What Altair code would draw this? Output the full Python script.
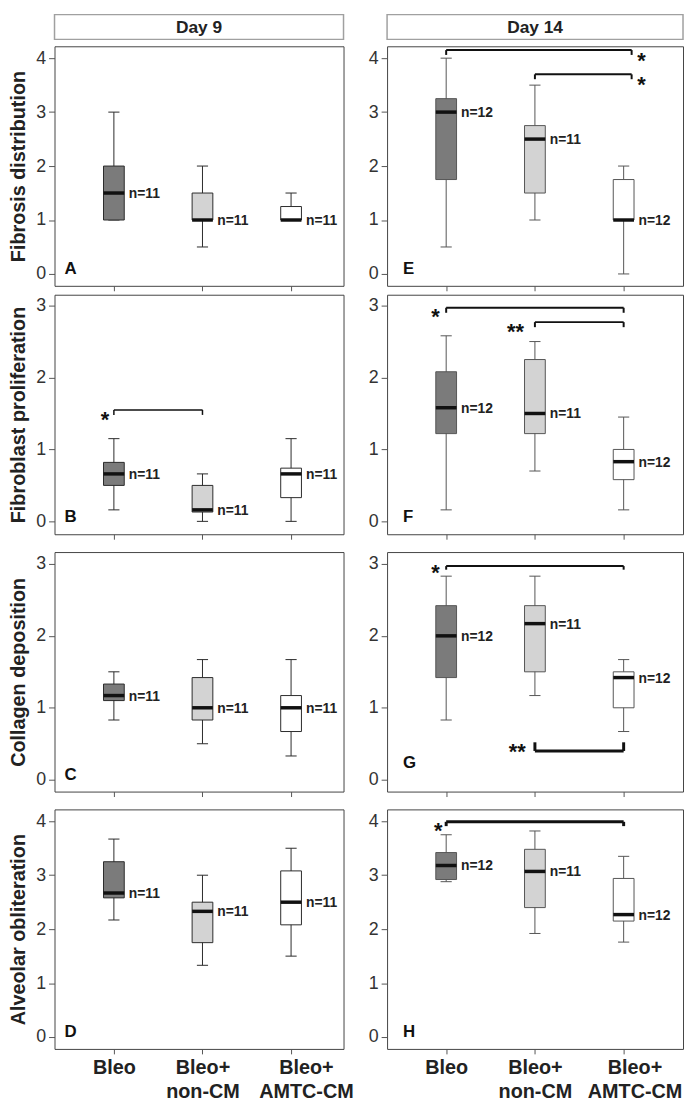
import json
import altair as alt
import pandas as pd

# ---------------- data ----------------
groups = ["Bleo", "Bleo+ non-CM", "Bleo+ AMTC-CM"]
group_pos = [1, 2, 3]

days = ["Day 9", "Day 14"]
metrics = ["Fibrosis distribution", "Fibroblast proliferation",
           "Collagen deposition", "Alveolar obliteration"]
letters_day9 = ["A", "B", "C", "D"]
letters_day14 = ["E", "F", "G", "H"]
n_day9 = [11, 11, 11]
n_day14 = [12, 11, 12]

# five-number summaries per group (Bleo, Bleo+non-CM, Bleo+AMTC-CM)
A_min = [1.00, 0.50, 1.00]
A_q1 = [1.00, 1.00, 1.00]
A_med = [1.50, 1.00, 1.00]
A_q3 = [2.00, 1.50, 1.25]
A_max = [3.00, 2.00, 1.50]

B_min = [0.16, 0.00, 0.00]
B_q1 = [0.50, 0.13, 0.33]
B_med = [0.66, 0.16, 0.66]
B_q3 = [0.82, 0.50, 0.74]
B_max = [1.15, 0.66, 1.15]

C_min = [0.83, 0.50, 0.33]
C_q1 = [1.10, 0.83, 0.67]
C_med = [1.17, 1.00, 1.00]
C_q3 = [1.33, 1.42, 1.17]
C_max = [1.50, 1.67, 1.67]

D_min = [2.17, 1.33, 1.50]
D_q1 = [2.58, 1.75, 2.08]
D_med = [2.67, 2.33, 2.50]
D_q3 = [3.25, 2.50, 3.08]
D_max = [3.67, 3.00, 3.50]

E_min = [0.50, 1.00, 0.00]
E_q1 = [1.75, 1.50, 1.00]
E_med = [3.00, 2.50, 1.00]
E_q3 = [3.25, 2.75, 1.75]
E_max = [4.00, 3.50, 2.00]

F_min = [0.16, 0.70, 0.16]
F_q1 = [1.22, 1.22, 0.58]
F_med = [1.58, 1.50, 0.83]
F_q3 = [2.08, 2.25, 1.00]
F_max = [2.58, 2.50, 1.45]

G_min = [0.83, 1.17, 0.67]
G_q1 = [1.42, 1.50, 1.00]
G_med = [2.00, 2.17, 1.42]
G_q3 = [2.42, 2.42, 1.50]
G_max = [2.83, 2.83, 1.67]

H_min = [2.88, 1.92, 1.76]
H_q1 = [2.92, 2.40, 2.15]
H_med = [3.18, 3.07, 2.27]
H_q3 = [3.42, 3.48, 2.94]
H_max = [3.75, 3.82, 3.35]

# significance brackets (group positions and levels in data units)
brk_panel = ["B", "E", "E", "F", "F", "G", "G", "H"]
brk_from = [1, 1, 2, 1, 2, 1, 2, 1]
brk_to = [2, 3.09, 3.09, 3, 3, 3, 3, 3]
brk_level = [1.55, 4.15, 3.70, 2.97, 2.77, 2.97, 0.40, 3.99]
brk_tip = [1.48, 4.06, 3.61, 2.90, 2.70, 2.92, 0.52, 3.91]
brk_stars = ["*", "*", "*", "*", "**", "*", "**", "*"]
brk_star_x = [0.90, 3.20, 3.20, 0.88, 1.78, 0.88, 1.80, 0.91]
brk_star_y = [1.49, 4.05, 3.61, 2.92, 2.72, 2.95, 0.46, 3.93]

panel_stats = {
    "A": (A_min, A_q1, A_med, A_q3, A_max),
    "B": (B_min, B_q1, B_med, B_q3, B_max),
    "C": (C_min, C_q1, C_med, C_q3, C_max),
    "D": (D_min, D_q1, D_med, D_q3, D_max),
    "E": (E_min, E_q1, E_med, E_q3, E_max),
    "F": (F_min, F_q1, F_med, F_q3, F_max),
    "G": (G_min, G_q1, G_med, G_q3, G_max),
    "H": (H_min, H_q1, H_med, H_q3, H_max),
}

# ---------------- styling / layout ----------------
FONT = "Liberation Sans"
group_fill = ["#7b7b7b", "#d3d3d3", "#ffffff"]
bracket_widths = [1.5, 2, 2, 2, 2, 2, 3, 3]
COL_W = [292, 299]
PANEL_H = 242
HEADER_BOX_H = 25
HEADER_H = 29
XDOM = [[0.330, 3.592], [0.334, 3.669]]
YDOM = [[-0.22, 4.22], [-0.179, 3.151], [-0.165, 3.165], [-0.22, 4.22]]
YTICKS = [[0, 1, 2, 3, 4], [0, 1, 2, 3], [0, 1, 2, 3], [0, 1, 2, 3, 4]]
X_EXTENT = [5, 14, 14, 0]
BOX_HALF = 0.117
CAP_HALF = 0.063
LINE_COL = ["#2a2a2a", "#555555"]
LETTER_X = [10, 16]
LAST_LABEL_SHIFT = [15, 11]
COL_SPACING = 13

label_lines = [g.split(" ") for g in groups]
label_expr = " : ".join(
    f"datum.value == {p} ? {json.dumps(l)}" for p, l in zip(group_pos[:-1], label_lines[:-1])
) + f" : {json.dumps(label_lines[-1])}"


def make_panel(letter, col, row):
    lo, q1, med, q3, hi = panel_stats[letter]
    ns = n_day9 if col == 0 else n_day14
    df = pd.DataFrame({
        "group": groups, "pos": group_pos, "lo": lo, "q1": q1,
        "med": med, "q3": q3, "hi": hi, "n": [f"n={v}" for v in ns],
    })
    width = COL_W[col]
    xscale = alt.Scale(domain=XDOM[col], nice=False, zero=False)
    yscale = alt.Scale(domain=YDOM[row], nice=False, zero=False)

    xa = dict(values=group_pos, grid=False, domain=False, ticks=True, tickSize=5,
              tickColor="#555", title=None)
    if row == 3:
        xa.update(labels=True, labelExpr=label_expr, labelFontSize=20,
                  labelFontWeight="bold", labelColor="#222", labelPadding=4,
                  labelLineHeight=24, labelBaseline="top", labelAlign="center",
                  labelFlush=False, labelOverlap=False, labelFont=FONT,
                  labelOffset={"condition": {"test": f"datum.value == {group_pos[-1]}",
                                             "value": LAST_LABEL_SHIFT[col]},
                               "value": 0})
    else:
        xa.update(labels=False, minExtent=X_EXTENT[row])
    ya = dict(values=YTICKS[row], grid=False, domain=False, tickSize=6, tickColor="#555",
              labelFontSize=18, labelColor="#333", labelPadding=3, labelFont=FONT)
    if col == 0:
        ya.update(title=metrics[row], titleFontSize=20, titleFontWeight="bold",
                  titleColor="#222", titlePadding=7, titleFont=FONT)
    else:
        ya.update(title=None)
    x_axis = alt.Axis(**xa)
    y_axis = alt.Axis(**ya)

    def X(f):
        return alt.X(f"{f}:Q", scale=xscale, axis=x_axis)

    def Y(f):
        return alt.Y(f"{f}:Q", scale=yscale, axis=y_axis)

    lc = LINE_COL[col]
    base = alt.Chart(df).transform_calculate(
        bl=f"datum.pos - {BOX_HALF}", br=f"datum.pos + {BOX_HALF}",
        cl=f"datum.pos - {CAP_HALF}", cr=f"datum.pos + {CAP_HALF}",
    )
    whisker = base.mark_rule(color=lc, strokeWidth=1).encode(x=X("pos"), y=Y("lo"), y2="hi:Q")
    cap_lo = base.mark_rule(color=lc, strokeWidth=1).encode(x=X("cl"), x2="cr:Q", y=Y("lo"))
    cap_hi = base.mark_rule(color=lc, strokeWidth=1).encode(x=X("cl"), x2="cr:Q", y=Y("hi"))
    box = base.mark_rect(stroke=lc, strokeWidth=1).encode(
        x=X("bl"), x2="br:Q", y=Y("q1"), y2="q3:Q",
        color=alt.Color("group:N", scale=alt.Scale(domain=groups, range=group_fill), legend=None),
    )
    median = base.mark_rule(color="#111", strokeWidth=3.5).encode(x=X("bl"), x2="br:Q", y=Y("med"))
    nlab = base.mark_text(align="left", baseline="middle", dx=15, dy=1, fontSize=14,
                          fontWeight="bold", color="#222", font=FONT).encode(
        x=X("pos"), y=Y("med"), text="n:N")
    letter_y = PANEL_H - 24 if letter == "G" else PANEL_H - 12
    let = alt.Chart(pd.DataFrame({"letter": [letter]})).mark_text(
        align="left", baseline="alphabetic", fontSize=17, fontWeight="bold",
        color="#111", font=FONT).encode(
        x=alt.value(LETTER_X[col]), y=alt.value(letter_y), text="letter:N")

    layers = [whisker, cap_lo, cap_hi, box, median, nlab, let]

    idx = [i for i, p in enumerate(brk_panel) if p == letter]
    if idx:
        bdf = pd.DataFrame({
            "x1": [brk_from[i] for i in idx], "x2": [brk_to[i] for i in idx],
            "lev": [brk_level[i] for i in idx], "tip": [brk_tip[i] for i in idx],
            "stars": [brk_stars[i] for i in idx], "sx": [brk_star_x[i] for i in idx],
            "sy": [brk_star_y[i] for i in idx], "w": [bracket_widths[i] for i in idx],
        })
        bb = alt.Chart(bdf)
        sw = alt.StrokeWidth("w:Q", scale=None, legend=None)
        layers += [
            bb.mark_rule(color="#111").encode(x=X("x1"), x2="x2:Q", y=Y("lev"), strokeWidth=sw),
            bb.mark_rule(color="#111").encode(x=X("x1"), y=Y("lev"), y2="tip:Q", strokeWidth=sw),
            bb.mark_rule(color="#111").encode(x=X("x2"), y=Y("lev"), y2="tip:Q", strokeWidth=sw),
            bb.mark_text(align="center", baseline="middle", dy=6, fontSize=22,
                         fontWeight="bold", color="#111", font=FONT).encode(
                x=X("sx"), y=Y("sy"), text="stars:N"),
        ]
    return alt.layer(*layers).properties(width=width, height=PANEL_H)


def make_header(col):
    w = COL_W[col]
    hdf = pd.DataFrame({"label": [days[col]]})
    boxm = alt.Chart(hdf).mark_rect(fill="white", stroke="#a0a0a0", strokeWidth=1.5).encode(
        x=alt.value(0), x2=alt.value(w), y=alt.value(0), y2=alt.value(HEADER_BOX_H))
    txt = alt.Chart(hdf).mark_text(fontSize=17.5, fontWeight="bold", color="#222",
                                   baseline="middle", align="center", font=FONT).encode(
        x=alt.value(w / 2), y=alt.value(HEADER_BOX_H / 2 + 1), text="label:N")
    return alt.layer(boxm, txt).properties(
        width=w, height=HEADER_H, view=alt.ViewBackground(strokeOpacity=0))


left = alt.vconcat(make_header(0), *[make_panel(l, 0, r) for r, l in enumerate(letters_day9)],
                   spacing=2).resolve_scale(x="independent", y="independent")
right = alt.vconcat(make_header(1), *[make_panel(l, 1, r) for r, l in enumerate(letters_day14)],
                    spacing=2).resolve_scale(x="independent", y="independent")

chart = alt.hconcat(left, right, spacing=COL_SPACING).resolve_scale(
    x="independent", y="independent"
).properties(
    padding={"left": 0, "top": 0, "right": 0, "bottom": 0}, background="white"
).configure(font=FONT).configure_view(stroke="#444", strokeWidth=1)

chart.save("out.html", embed_options={"renderer": "svg", "actions": False})
